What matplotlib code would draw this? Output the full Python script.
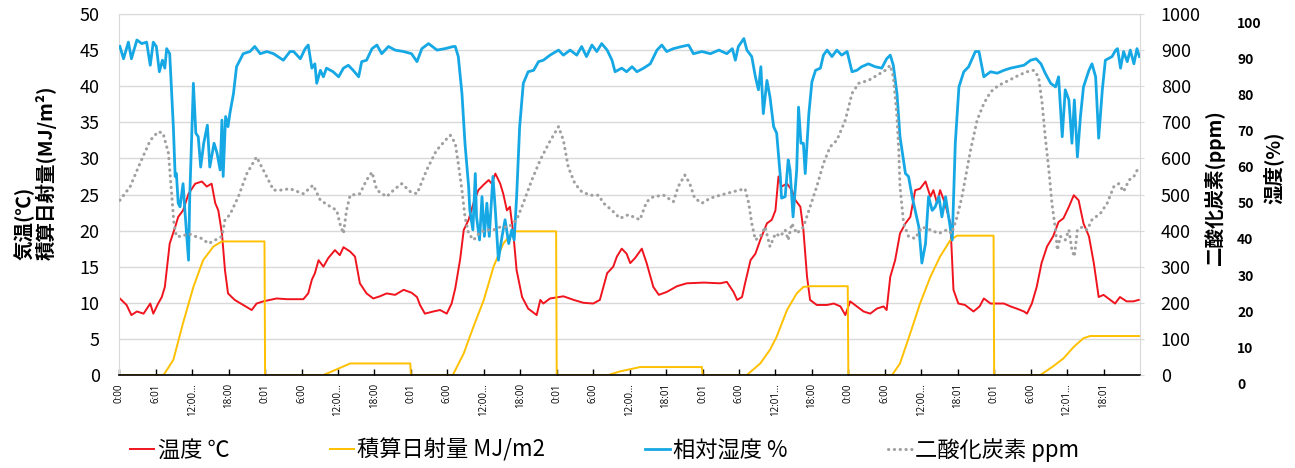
import matplotlib
matplotlib.use('Agg')
import matplotlib.pyplot as plt
import matplotlib.transforms as mtransforms

plt.rcParams['font.family'] = ['Noto Sans CJK JP', 'DejaVu Sans']

# x axis: hours from the first 0:00, one label every 6 hours
tick_labels = ["0:00", "6:01", "12:00...", "18:00", "0:01", "6:00", "12:00...", "18:00",
               "0:01", "6:00", "12:00...", "18:00", "0:01", "6:00", "12:00...", "18:01",
               "0:01", "6:00", "12:01...", "18:00", "0:00", "6:00", "12:00...", "18:01",
               "0:01", "6:00", "12:01...", "18:01"]

# 温度 (°C)
temp_h = [0.1, 1.2, 2.0, 2.9, 4.0, 5.1, 5.6, 6.4, 7.0, 7.5, 8.3, 9.2, 9.7, 10.5, 11.4, 12.5,
          13.6, 14.4, 15.2, 15.8, 16.3, 16.9, 17.4, 17.9, 19.0, 20.4, 21.8, 22.6, 23.7, 25.9,
          27.6, 30.3, 31.1, 31.7, 32.2, 32.8, 33.6, 34.4, 35.5, 36.3, 36.9, 38.0, 38.8, 39.6,
          40.7, 41.8, 42.9, 44.0, 45.4, 46.8, 48.1, 49.0, 49.5, 50.3, 51.7, 52.8, 53.9, 54.7,
          55.3, 56.1, 56.7, 57.5, 58.3, 59.1, 59.9, 60.8, 61.3, 61.9, 62.7, 63.2, 63.8, 64.3,
          64.9, 65.4, 66.3, 67.3, 68.7, 69.3, 69.8, 70.9, 73.1, 74.8, 76.4, 78.0, 79.1, 80.3,
          81.3, 81.9, 82.7, 83.5, 84.1, 84.9, 86.0, 86.8, 87.9, 88.8, 90.1, 91.8, 93.4, 96.2,
          98.9, 100.0, 101.1, 101.7, 102.5, 103.0, 103.9, 104.7, 105.5, 106.6, 107.4, 108.0,
          108.5, 109.0, 109.9, 110.7, 111.3, 112.1, 112.6, 113.2, 113.7, 114.8, 116.5, 117.6,
          118.7, 119.5, 120.3, 121.4, 122.5, 123.6, 124.7, 125.8, 126.3, 126.9, 127.7, 128.5,
          129.4, 130.2, 131.0, 131.8, 132.7, 133.5, 134.0, 134.6, 135.1, 135.9, 136.8, 137.3,
          138.1, 139.2, 140.6, 141.6, 142.3, 143.4, 145.6, 146.7, 147.7, 148.9, 149.4, 150.2,
          151.0, 151.8, 152.7, 153.7, 154.6, 155.4, 156.3, 157.1, 157.9, 158.7, 159.6, 160.4,
          161.2, 162.0, 163.1, 163.9, 164.7, 165.8, 166.9, 167.8]
temp_c = [10.6, 9.7, 8.3, 8.8, 8.5, 9.9, 8.5, 9.9, 10.8, 12.2, 18.2, 20.5, 21.9, 22.8, 25.1, 26.5,
          26.8, 26.1, 26.5, 23.8, 22.8, 19.6, 14.5, 11.3, 10.4, 9.7, 9.0, 9.9, 10.2, 10.6,
          10.5, 10.5, 11.3, 13.2, 14.1, 15.9, 15.0, 16.2, 17.3, 16.6, 17.7, 17.1, 16.4, 12.7,
          11.3, 10.6, 10.9, 11.3, 11.1, 11.8, 11.4, 10.8, 9.7, 8.5, 8.8, 9.0, 8.5, 9.9,
          12.0, 16.0, 20.1, 21.5, 23.8, 25.6, 26.3, 27.0, 26.5, 27.9, 26.5, 25.1, 22.8, 23.3,
          19.2, 14.5, 10.8, 9.2, 8.3, 10.4, 9.9, 10.6, 10.9, 10.4, 10.0, 9.9, 10.4, 14.1,
          15.0, 16.4, 17.5, 16.8, 15.5, 16.2, 17.5, 15.5, 12.2, 11.1, 11.5, 12.3, 12.7, 12.8,
          12.7, 12.9, 11.5, 10.4, 10.8, 12.7, 15.9, 16.8, 18.7, 21.0, 21.5, 22.8,
          27.5, 26.1, 26.5, 25.6, 24.2, 23.3, 20.1, 13.6, 10.4, 9.7, 9.7, 9.9,
          9.5, 8.3, 10.2, 9.5, 8.8, 8.5, 9.2, 9.5, 9.0, 13.6, 15.9, 19.6,
          21.0, 21.9, 25.6, 25.8, 26.8, 24.7, 25.6, 23.8, 25.6, 23.8, 21.0, 11.8,
          9.9, 9.7, 8.8, 9.5, 10.6, 9.9, 9.9, 9.5, 9.2, 8.8, 8.5, 9.9,
          12.2, 15.5, 17.8, 19.2, 21.2, 21.7, 23.3, 24.9, 24.2, 21.0, 19.2, 15.5,
          10.8, 11.1, 10.4, 9.9, 10.8, 10.2, 10.2, 10.4]

# 積算日射量 (MJ/m2), reset at midnight
solar_h = [0, 7.3, 8.9, 10.5, 12.2, 13.8, 15.5, 16.9, 23.9, 24.0,
           33.6, 36.1, 38.0, 47.9, 48.0,
           54.9, 56.7, 58.3, 60.0, 61.6, 63.2, 64.9, 71.9, 72.0,
           80.5, 82.4, 84.1, 85.7, 95.9, 96.0,
           103.3, 105.5, 107.1, 108.2, 109.9, 111.5, 112.6, 113.7, 119.9, 120.0,
           127.2, 128.5, 130.2, 131.8, 133.5, 135.1, 136.8, 137.9, 143.9, 144.0,
           151.6, 153.7, 155.4, 157.1, 158.7, 159.8, 168.0]
solar_mj = [0, 0, 2.1, 7.2, 12.2, 15.9, 17.8, 18.5, 18.5, 0,
            0, 0.9, 1.6, 1.6, 0,
            0, 3.0, 6.7, 10.4, 15.0, 18.2, 19.9, 19.9, 0,
            0, 0.5, 0.8, 1.1, 1.1, 0,
            0, 1.6, 3.5, 5.3, 9.0, 11.3, 12.2, 12.3, 12.3, 0,
            0, 1.6, 5.8, 9.9, 13.6, 16.4, 18.7, 19.3, 19.3, 0,
            0, 1.2, 2.3, 3.9, 5.1, 5.4, 5.4]

# 相対湿度 (%)
hum_h = [0.1, 0.7, 1.5, 2.0, 2.9, 3.7, 4.5, 5.1, 5.6, 6.1, 6.6, 7.1, 7.5, 7.8, 8.3, 8.9, 9.2,
         9.4, 9.7, 10.0, 10.5, 10.8, 11.4, 11.6, 12.2, 12.6, 13.0, 13.4, 13.9, 14.5, 14.9,
         15.6, 16.1, 16.6, 16.9, 17.1, 17.5, 17.9, 18.2, 18.8, 19.3, 20.4, 21.5, 22.3, 23.2,
         24.3, 25.4, 27.0, 28.1, 28.7, 29.8, 30.6, 31.1, 31.7, 32.2, 32.5, 33.1, 33.6, 34.1,
         35.2, 36.1, 36.9, 37.7, 38.5, 39.4, 39.9, 40.7, 41.6, 42.4, 43.2, 44.3, 45.4, 46.8,
         48.1, 49.0, 49.8, 50.9, 52.3, 53.6, 55.0, 55.3, 55.8, 56.4, 56.9, 57.5, 57.7, 58.2,
         58.6, 58.8, 59.3, 59.7, 60.1, 60.5, 60.9, 61.5, 61.9, 62.4, 63.0, 63.5, 64.1, 64.6,
         65.0, 65.4, 65.9, 66.5, 67.3, 68.2, 69.0, 69.8, 70.9, 72.3, 73.1, 74.2, 75.3, 76.1,
         76.9, 77.8, 78.6, 79.4, 80.3, 81.1, 81.6, 82.7, 83.5, 84.4, 85.2, 86.3, 87.4, 88.5,
         89.3, 90.1, 91.2, 92.6, 93.7, 94.5, 95.9, 97.3, 98.7, 100.0, 100.9, 101.4, 101.9,
         102.8, 103.3, 104.1, 104.7, 105.2, 105.6, 106.0, 106.6, 107.1, 107.7, 108.2, 108.8,
         109.0, 109.6, 110.1, 110.4, 110.9, 111.5, 111.8, 112.2, 112.6, 112.9, 113.5, 114.0,
         114.6, 115.4, 115.9, 116.5, 117.3, 118.1, 118.9, 119.8, 120.6, 121.4, 122.2, 123.3,
         124.4, 125.5, 126.3, 126.9, 127.4, 128.0, 128.5, 129.4, 129.9, 130.5, 131.0, 131.6,
         132.1, 132.7, 133.2, 133.8, 134.3, 134.9, 135.4, 136.0, 136.5, 137.1, 137.6, 138.2,
         139.0, 139.8, 140.9, 141.5, 142.3, 143.4, 144.5, 145.6, 146.7, 147.8, 148.9, 150.0,
         150.9, 151.7, 152.4, 153.3, 154.1, 154.6, 155.2, 155.7, 156.3, 156.8, 157.2, 157.7,
         158.2, 158.7, 159.6, 160.1, 160.7, 161.2, 161.8, 162.3, 163.4, 164.0, 164.3, 164.8,
         165.3, 165.9, 166.4, 167.0, 167.5, 167.9]
hum_pct = [91.0, 87.6, 92.2, 87.6, 92.8, 91.8, 92.2, 85.8, 92.2, 91.0, 84.0, 87.2, 85.0, 90.4, 89.0, 68.8, 55.0,
           55.8, 47.6, 46.6, 53.0, 45.6, 31.8, 49.4, 80.8, 67.0, 66.0, 57.6, 64.2, 69.2, 57.6,
           64.2, 61.4, 56.8, 70.6, 55.0, 71.6, 68.8, 72.4, 78.0, 85.4, 89.0, 89.6, 91.0, 89.0,
           89.6, 89.0, 87.2, 89.6, 89.6, 87.6, 90.4, 91.4, 85.0, 86.2, 80.8, 84.4, 82.6, 85.0,
           84.0, 82.6, 85.0, 85.8, 84.4, 82.6, 86.8, 87.2, 90.4, 91.4, 89.0, 91.0, 90.0, 89.6,
           89.0, 86.8, 90.4, 91.8, 90.0, 90.4, 91.0, 91.0, 88.2, 78.0, 64.2, 52.2, 45.6, 40.2,
           55.8, 43.8, 37.4, 49.4, 38.4, 47.6, 38.4, 55.0, 45.6, 31.8, 38.4, 43.0, 36.4, 40.2,
           37.4, 49.4, 68.8, 80.8, 84.0, 84.4, 86.8, 87.2, 88.6, 90.0, 88.6, 90.0, 88.6, 91.0,
           88.2, 91.4, 89.6, 91.8, 90.0, 87.2, 84.0, 85.0, 84.0, 85.4, 84.0, 85.0, 86.2, 90.0,
           91.4, 89.6, 90.4, 91.0, 91.4, 89.0, 89.6, 89.0, 90.0, 89.0, 90.4, 87.2, 91.0,
           93.2, 90.0, 88.2, 82.6, 79.0, 85.4, 72.4, 81.6, 77.0, 68.8, 67.0, 55.0,
           49.0, 49.4, 59.6, 56.8, 43.8, 56.8, 74.2, 64.2, 64.2, 55.8, 72.4, 81.2,
           84.4, 85.0, 88.6, 90.0, 88.2, 90.0, 88.6, 89.6, 84.0, 84.4, 85.4, 86.2,
           85.4, 85.0, 87.6, 88.6, 85.8, 78.0, 66.0, 55.8, 55.0, 49.4, 45.6, 41.0,
           31.0, 36.4, 49.4, 45.6, 46.6, 49.4, 43.8, 49.4, 43.8, 37.4, 64.2, 79.8,
           84.0, 85.4, 89.6, 89.6, 82.6, 84.0, 83.6, 84.4, 85.0, 85.4, 85.8, 87.2,
           87.6, 86.2, 83.6, 80.8, 79.8, 82.6, 66.0, 79.0, 76.2, 64.2, 76.2, 60.4,
           71.6, 79.8, 84.4, 86.2, 82.6, 65.6, 79.0, 87.2, 88.2, 90.0, 90.4, 85.0,
           89.6, 86.8, 90.0, 86.2, 90.4, 88.2]

# 二酸化炭素 (ppm)
co2_h = [0.1, 1.8, 3.4, 5.1, 6.4, 7.2, 8.1, 8.6, 9.0, 9.4, 10.3, 11.4, 12.5, 13.6, 14.7, 15.8,
         16.9, 17.4, 18.2, 19.6, 21.0, 22.6, 23.7, 25.4, 26.5, 28.1, 30.3, 31.9, 33.1, 34.4,
         35.8, 36.3, 36.9, 37.4, 38.0, 39.6, 40.7, 41.6, 42.4, 44.0, 45.4, 46.5, 47.9, 49.0,
         50.6, 52.2, 54.2, 54.5, 55.3, 55.8, 56.4, 56.9, 57.5, 58.3, 59.4, 60.5, 61.6, 62.7,
         64.1, 65.4, 66.5, 67.9, 69.3, 70.7, 72.3, 73.1, 73.9, 75.0, 76.1, 77.5, 78.9, 79.7,
         81.1, 82.4, 83.8, 85.7, 86.8, 87.9, 89.6, 91.2, 92.0, 93.1, 93.9, 94.7, 95.9, 97.3,
         98.9, 101.1, 103.0, 103.6, 104.1, 104.7, 105.5, 106.3, 107.1, 108.0, 108.8, 109.6,
         110.1, 110.7, 111.5, 112.6, 113.7, 114.8, 115.9, 117.0, 118.1, 119.5, 120.6, 121.7,
         123.3, 124.7, 126.1, 126.9, 127.4, 128.0, 128.3, 128.5, 129.1, 129.9, 131.0, 132.1,
         133.5, 134.9, 136.2, 137.0, 137.9, 138.7, 139.2, 139.5, 140.1, 141.2, 142.3, 143.4,
         144.7, 146.4, 148.0, 149.4, 150.5, 151.3, 151.9, 152.4, 153.0, 153.5, 154.1, 154.4,
         154.9, 155.7, 156.3, 156.8, 157.2, 157.7, 158.5, 159.3, 160.1, 161.5, 162.6, 163.7,
         164.5, 165.3, 166.2, 167.0, 167.8]
co2_ppm = [484, 522, 586, 650, 674, 670, 614, 504, 420, 384, 384, 392, 384, 378, 364, 374,
           384, 430, 444, 494, 558, 604, 568, 512, 512, 516, 502, 526, 484, 470,
           456, 420, 392, 456, 498, 502, 540, 562, 512, 494, 516, 530, 508, 502,
           568, 622, 660, 664, 642, 586, 512, 438, 392, 374, 396, 402, 402, 410,
           410, 430, 476, 540, 596, 642, 688, 650, 576, 530, 508, 498, 498, 476,
           456, 434, 444, 430, 480, 494, 498, 480, 522, 554, 530, 490, 476, 490,
           498, 508, 516, 476, 420, 374, 384, 410, 356, 392, 384, 402,
           374, 420, 392, 410, 466, 522, 586, 632, 650, 706, 780, 808,
           816, 830, 844, 858, 826, 716, 622, 522, 420, 384, 378, 410,
           402, 392, 402, 392, 438, 494, 540, 568, 622, 706, 752, 784,
           802, 816, 830, 840, 844, 826, 752, 660, 568, 476, 402, 346,
           384, 374, 402, 346, 328, 402, 410, 402, 430, 448, 476, 522,
           530, 508, 540, 550, 576]

fig = plt.figure(figsize=(12.95, 4.68), dpi=100)
ax = fig.add_axes([0.0921, 0.1987, 0.7882, 0.7714])
ax3 = ax.twinx()
ax2 = ax.twinx()

l_temp, = ax.plot(temp_h, temp_c, color='#f0141e', lw=1.4, label='温度 ℃')
l_sol, = ax.plot(solar_h, solar_mj, color='#ffc000', lw=1.4, label='積算日射量 MJ/m2')
l_hum, = ax3.plot(hum_h, hum_pct, color='#16a8e4', lw=2.0, label='相対湿度 %')
l_co2, = ax2.plot(co2_h, co2_ppm, color='#a0a0a0', lw=2.2, ls=(0, (0.1, 1.8)),
                  dash_capstyle='round', label='二酸化炭素 ppm')

ax.set_xlim(0, 168)
ax.set_ylim(0, 50)
ax.set_yticks(range(0, 51, 5))
ax.grid(axis='y', color='#d9d9d9', lw=1)
ax.set_axisbelow(True)
ax.set_xticks(range(0, 168, 6))
ax.set_xticklabels(tick_labels, rotation=90, fontsize=7, family=['Open Sans', 'DejaVu Sans'])
ax.tick_params(axis='x', direction='in', length=4, width=1, color='black', pad=6)
ax.tick_params(axis='y', length=0, pad=14, labelsize=13)
for s in ['top', 'left', 'right']:
    ax.spines[s].set_color('#d9d9d9')
ax.spines['bottom'].set_color('black')
ax.spines['bottom'].set_linewidth(1.2)
ax.set_ylabel('気温(℃)\n積算日射量(MJ/m²)', fontsize=14, fontweight='bold',
              multialignment='left', linespacing=1.05)
ax.yaxis.set_label_coords(-0.061, 0.56)

ax2.set_ylim(0, 1000)
ax2.set_yticks(range(0, 1001, 100))
ax2.tick_params(axis='y', length=3, color='#d9d9d9', pad=12, labelsize=13)
for s in ax2.spines.values():
    s.set_visible(False)
ax2.set_ylabel('二酸化炭素(ppm)', fontsize=14, fontweight='bold')
ax2.yaxis.set_label_coords(1.063, 0.52)

ax3.set_ylim(0, 100)
ax3.set_yticks(range(0, 101, 10))
ax3.spines['right'].set_position(('outward', 68))
for s in ax3.spines.values():
    s.set_visible(False)
ax3.tick_params(axis='y', length=0, pad=2, labelsize=10)
shift = mtransforms.ScaledTranslation(0, -6 / 72, fig.dpi_scale_trans)
for t in ax3.get_yticklabels():
    t.set_fontweight('bold')
    t.set_transform(t.get_transform() + shift)
ax3.set_ylabel('湿度(%)', fontsize=14, fontweight='bold')
ax3.yaxis.set_label_coords(1.12, 0.575)

fig.legend(handles=[l_temp, l_sol, l_hum, l_co2], ncol=4, loc='center left',
           bbox_to_anchor=(110 / 1295, 1 - 450 / 468), frameon=False, fontsize=16,
           handlelength=1.1, handletextpad=0.15, columnspacing=4.5)

fig.savefig('out.png', dpi=100)
